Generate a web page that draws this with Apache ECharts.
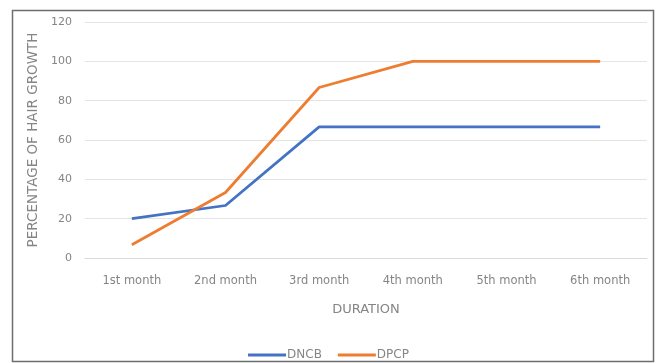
<!DOCTYPE html>
<html>
<head>
<meta charset="utf-8">
<script src="https://cdn.jsdelivr.net/npm/echarts@6/dist/echarts.min.js"></script>
<style>
  html, body { margin: 0; padding: 0; background: #fff; }
  #chart { width: 657px; height: 363px; }
</style>
</head>
<body>
<div id="chart"></div>
<script>
// Hair growth over six months for the two treatments
var months = ['1st month', '2nd month', '3rd month', '4th month', '5th month', '6th month'];
var dncb = [20, 26.7, 66.7, 66.7, 66.7, 66.7];
var dpcp = [6.7, 33.3, 86.7, 100, 100, 100];
var yTicks = [0, 20, 40, 60, 80, 100, 120];

var textColor = '#858585';
var fontFamily = 'DejaVu Sans, sans-serif';

var chart = echarts.init(document.getElementById('chart'), null, { renderer: 'canvas' });
chart.setOption({
  animation: false,
  backgroundColor: '#fff',
  textStyle: { fontFamily: fontFamily },
  graphic: [{
    type: 'rect',
    shape: { x: 12.5, y: 10.5, width: 641, height: 351 },
    style: { fill: 'none', stroke: '#6e6e6e', lineWidth: 1.5 },
    silent: true
  }],
  grid: { left: 85, right: 10, top: 22, bottom: 105, containLabel: false },
  legend: {
    top: 344,
    left: 'center',
    itemWidth: 38,
    itemHeight: 3,
    itemGap: 16,
    icon: 'rect',
    textStyle: { color: textColor, fontSize: 12, fontFamily: fontFamily, padding: [0, 0, 0, -4] },
    data: ['DNCB', 'DPCP']
  },
  xAxis: {
    type: 'category',
    data: months,
    boundaryGap: true,
    name: 'DURATION',
    nameLocation: 'middle',
    nameGap: 45,
    nameTextStyle: { color: textColor, fontSize: 13 },
    axisLine: { lineStyle: { color: '#d9d9d9' } },
    axisTick: { show: false },
    axisLabel: { color: textColor, fontSize: 11.5, margin: 17 }
  },
  yAxis: {
    type: 'value',
    min: yTicks[0],
    max: yTicks[yTicks.length - 1],
    interval: yTicks[1] - yTicks[0],
    name: 'PERCENTAGE OF HAIR GROWTH',
    nameLocation: 'middle',
    nameGap: 45,
    nameTextStyle: { color: textColor, fontSize: 13.5 },
    axisLine: { show: false },
    axisTick: { show: false },
    axisLabel: { color: textColor, fontSize: 11, margin: 13 },
    splitLine: { lineStyle: { color: '#e4e4e4' } }
  },
  series: [
    {
      name: 'DNCB',
      type: 'line',
      data: dncb,
      symbol: 'none',
      itemStyle: { color: '#4472C4' },
      lineStyle: { color: '#4472C4', width: 2.75 }
    },
    {
      name: 'DPCP',
      type: 'line',
      data: dpcp,
      symbol: 'none',
      itemStyle: { color: '#ED7D31' },
      lineStyle: { color: '#ED7D31', width: 2.75 }
    }
  ]
});
</script>
</body>
</html>
